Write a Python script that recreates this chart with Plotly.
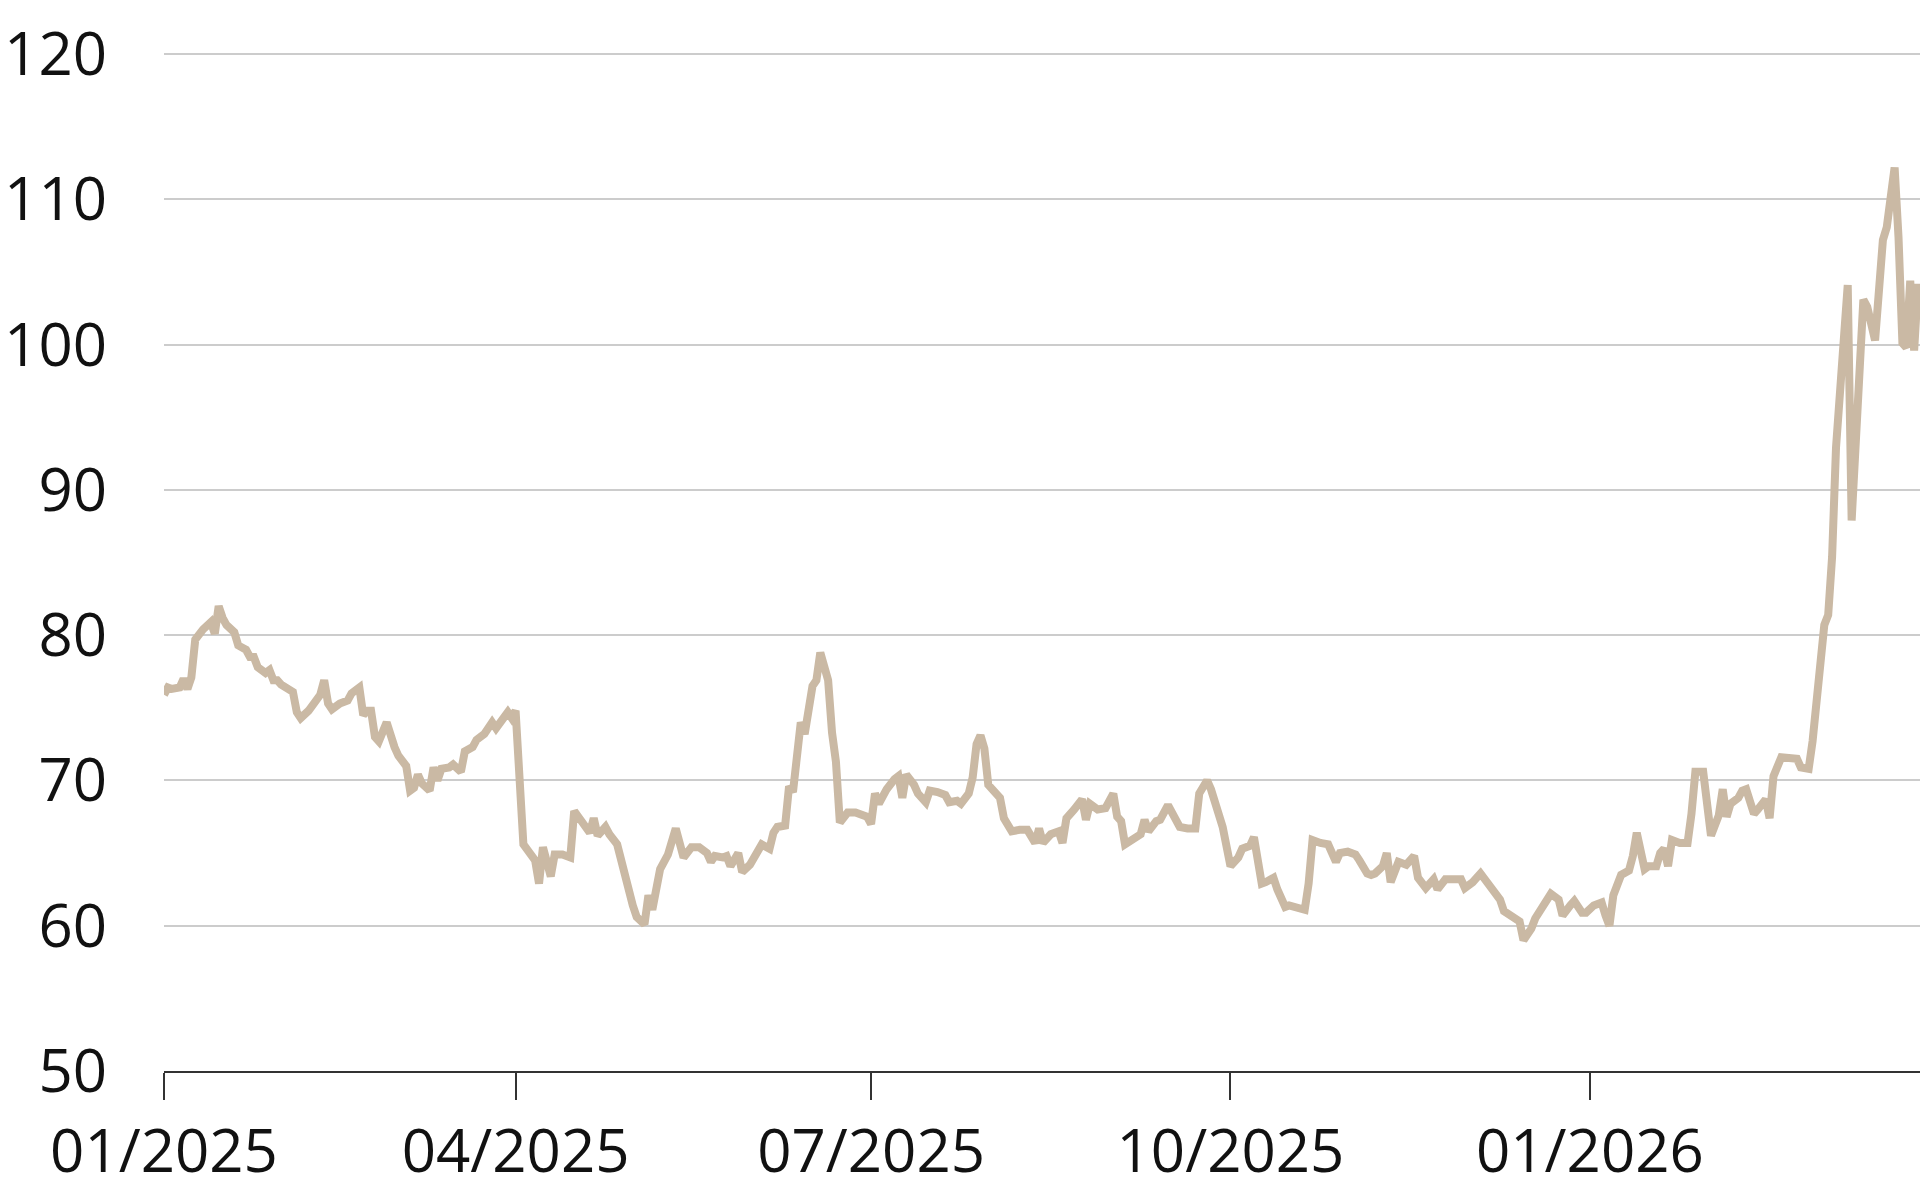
import pandas as pd
import plotly.graph_objects as go

start_date = "2025-01-01"

days_since_start = [
    0, 1, 2, 4, 5, 6, 7, 8, 10, 12,
    13, 14, 15, 16, 18, 19, 21, 22, 23, 24,
    26, 27, 28, 29, 30, 32, 33, 34, 35, 37,
    39, 40, 41, 42, 43, 45, 47, 48, 50, 51,
    52, 53, 54, 55, 57, 58, 59, 60, 62, 63,
    64, 65, 66, 68, 69, 70, 71, 73, 74, 76,
    77, 79, 80, 82, 83, 84, 85, 87, 88, 89,
    90, 92, 95, 96, 97, 99, 100, 102, 104, 105,
    107, 109, 110, 111, 113, 114, 116, 118, 120, 121,
    123, 124, 125, 127, 129, 131, 132, 133, 135, 137,
    139, 140, 141, 143, 144, 145, 147, 148, 150, 152,
    153, 155, 156, 157, 159, 160, 161, 163, 164, 166,
    167, 168, 170, 171, 172, 173, 175, 177, 180, 181,
    182, 183, 185, 187, 188, 189, 190, 192, 193, 195,
    196, 198, 200, 201, 203, 204, 206, 207, 208, 209,
    210, 211, 212, 214, 215, 217, 219, 221, 223, 224,
    225, 227, 229, 230, 231, 232, 233, 235, 236, 237,
    239, 241, 243, 244, 245, 246, 248, 250, 251, 252,
    254, 255, 257, 258, 260, 262, 264, 265, 267, 268,
    270, 271, 273, 275, 276, 278, 279, 281, 282, 284,
    285, 287, 288, 290, 292, 293, 294, 296, 298, 300,
    301, 303, 305, 306, 308, 309, 310, 312, 313, 314,
    316, 318, 320, 321, 323, 325, 326, 328, 330, 332,
    333, 335, 337, 339, 341, 342, 343, 345, 347, 348,
    350, 351, 353, 355, 357, 358, 360, 361, 363, 364,
    366, 368, 369, 370, 371, 373, 375, 376, 377, 379,
    380, 382, 383, 384, 385, 386, 388, 390, 391, 392,
    394, 395, 396, 398, 399, 400, 401, 403, 404, 405,
    407, 408, 410, 411, 412, 414, 416, 418, 419, 421,
    422, 423, 425, 426, 427, 428, 431, 432, 434, 435,
    436, 437, 438, 440, 441, 443, 444, 445, 446, 447,
    448, 449,
]

values = [
    75.9, 76.4, 76.3, 76.4, 77.0, 76.3, 77.1, 79.7, 80.4, 80.9,
    80.1, 82.0, 81.2, 80.7, 80.2, 79.3, 79.0, 78.5, 78.5, 77.8,
    77.4, 77.6, 76.9, 76.9, 76.6, 76.3, 76.1, 74.7, 74.3, 74.8,
    75.5, 75.9, 76.9, 75.3, 74.9, 75.3, 75.5, 76.0, 76.4, 74.5,
    74.8, 74.8, 73.0, 72.7, 74.0, 73.0, 72.3, 71.7, 71.0, 69.3,
    69.5, 70.4, 69.8, 69.3, 70.9, 70.0, 70.8, 70.9, 71.1, 70.6,
    72.0, 72.3, 72.8, 73.2, 73.7, 74.0, 73.6, 74.2, 74.7, 74.3,
    74.8, 65.6, 64.5, 62.9, 65.4, 63.4, 64.9, 64.9, 64.7, 67.9,
    67.2, 66.4, 67.4, 66.2, 66.8, 66.3, 65.6, 63.3, 61.4, 60.6,
    60.1, 62.1, 61.1, 63.9, 64.9, 66.7, 65.8, 64.7, 65.4, 65.4,
    65.0, 64.4, 64.8, 64.7, 64.8, 64.1, 65.0, 63.7, 64.2, 65.0,
    65.6, 65.3, 66.4, 66.8, 66.9, 69.6, 69.2, 74.0, 73.2, 76.5,
    76.9, 78.8, 76.9, 73.3, 71.3, 67.1, 67.8, 67.8, 67.5, 67.0,
    69.1, 68.4, 69.4, 70.1, 70.3, 68.8, 70.4, 69.7, 69.1, 68.5,
    69.3, 69.2, 69.0, 68.5, 68.6, 68.4, 69.1, 70.2, 72.5, 73.1,
    72.2, 69.7, 69.4, 68.8, 67.4, 66.5, 66.6, 66.6, 65.7, 66.7,
    65.7, 66.3, 66.5, 65.7, 67.4, 67.8, 68.0, 68.7, 67.3, 68.4,
    68.0, 68.1, 69.1, 67.5, 67.2, 65.6, 65.9, 66.3, 67.3, 66.5,
    67.2, 67.3, 68.3, 67.7, 66.8, 66.7, 66.7, 69.1, 70.0, 69.4,
    67.9, 66.8, 64.1, 64.7, 65.3, 65.5, 66.1, 62.9, 63.0, 63.3,
    62.5, 61.3, 61.4, 61.3, 61.1, 62.9, 65.9, 65.7, 65.6, 64.4,
    65.0, 65.1, 64.9, 64.5, 63.6, 63.5, 63.6, 64.1, 65.0, 63.0,
    64.4, 64.2, 64.8, 63.3, 62.6, 63.2, 62.5, 63.2, 63.2, 63.2,
    62.6, 63.0, 63.6, 62.9, 62.1, 61.8, 61.0, 60.7, 60.3, 59.0,
    59.8, 60.5, 61.4, 62.2, 61.8, 60.7, 61.4, 61.7, 60.9, 60.9,
    61.4, 61.6, 60.7, 60.0, 62.1, 63.5, 63.8, 64.8, 66.4, 63.9,
    64.1, 64.1, 65.0, 65.3, 64.1, 65.9, 65.7, 65.7, 67.7, 70.6,
    70.6, 68.5, 66.2, 67.6, 69.4, 67.5, 68.4, 68.8, 69.3, 69.4,
    67.7, 68.0, 68.7, 67.4, 70.3, 71.6, 71.6, 71.5, 70.9, 70.8,
    72.7, 75.7, 80.7, 81.4, 85.4, 92.9, 104.1, 87.9, 96.7, 103.1,
    102.6, 101.1, 100.3, 107.2, 108.1, 112.2, 107.4, 100.1, 99.8, 104.4,
    99.6, 104.2,
]

x_tick_dates = ["2025-01-01", "2025-04-01", "2025-07-01", "2025-10-01", "2026-01-01"]
x_tick_labels = ["01/2025", "04/2025", "07/2025", "10/2025", "01/2026"]
y_ticks = [50, 60, 70, 80, 90, 100, 110, 120]

dates = pd.to_datetime(start_date) + pd.to_timedelta(days_since_start, unit="D")

FONT = "Open Sans"
LINE_COLOR = "#CAB9A4"
FS = 60

fig = go.Figure()
fig.add_trace(go.Scatter(
    x=dates, y=values, mode="lines",
    line=dict(color=LINE_COLOR, width=8),
    showlegend=False, hoverinfo="skip",
))

fig.update_layout(
    width=1920, height=1200,
    margin=dict(l=164, r=0, t=52, b=129),
    paper_bgcolor="white", plot_bgcolor="white",
    font=dict(family=FONT, size=FS, color="#111111"),
    showlegend=False,
)

fig.update_xaxes(
    type="date",
    range=["2025-01-01", "2026-03-26 12:00"],
    tickvals=x_tick_dates, ticktext=x_tick_labels,
    showgrid=False, zeroline=False,
    showline=True, linecolor="#333333", linewidth=2,
    ticks="outside", ticklen=27, tickwidth=2, tickcolor="#333333",
    ticklabelstandoff=0,
    automargin=False,
    tickfont=dict(family=FONT, size=FS, color="#111111"),
)

fig.update_yaxes(
    range=[50, 120.15],
    tickvals=y_ticks,
    showgrid=True, gridcolor="#CCCCCC", gridwidth=2,
    zeroline=False, showline=False, ticks="",
    ticklabelstandoff=56,
    automargin=False,
    tickfont=dict(family=FONT, size=FS, color="#111111"),
)

# remove the default page margin so the figure fills the 1920x1200 window exactly
page_css = ("document.documentElement.style.margin='0';"
            "document.body.style.margin='0';"
            "document.body.style.overflow='hidden';")

fig.write_html("out.html", post_script=page_css,
               config={"displayModeBar": False, "staticPlot": True})
